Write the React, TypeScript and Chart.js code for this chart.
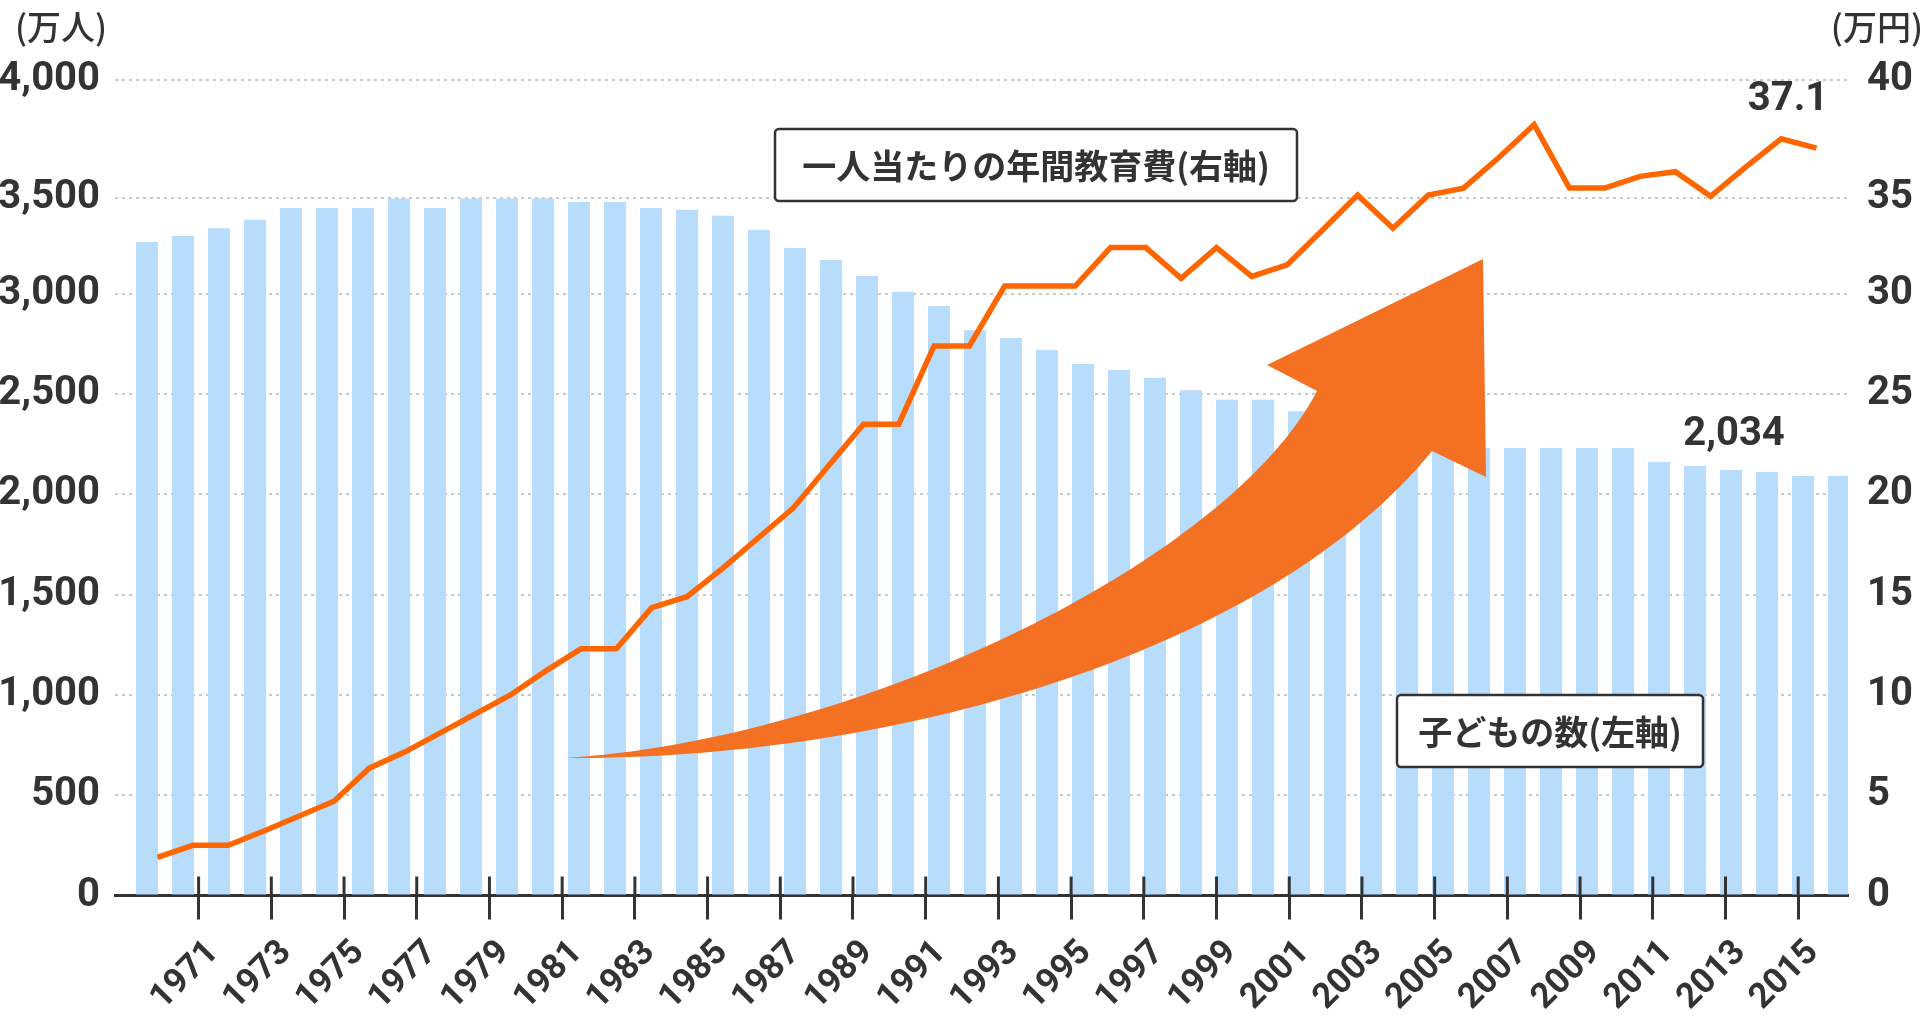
import React, { useEffect, useRef } from 'react';
import { Chart, registerables, LinearScale } from 'chart.js';

// ---- data ----
const YEARS = [
  1970, 1971, 1972, 1973, 1974, 1975, 1976, 1977, 1978, 1979,
  1980, 1981, 1982, 1983, 1984, 1985, 1986, 1987, 1988, 1989,
  1990, 1991, 1992, 1993, 1994, 1995, 1996, 1997, 1998, 1999,
  2000, 2001, 2002, 2003, 2004, 2005, 2006, 2007, 2008, 2009,
  2010, 2011, 2012, 2013, 2014, 2015, 2016, 2017,
];
// 子どもの数 (万人)
const CHILDREN = [
  3269, 3300, 3341, 3384, 3445, 3445, 3445, 3495, 3445, 3495,
  3495, 3495, 3477, 3477, 3445, 3436, 3405, 3331, 3238, 3176,
  3092, 3009, 2939, 2819, 2780, 2720, 2650, 2620, 2581, 2519,
  2472, 2472, 2414, 2377, 2340, 2300, 2265, 2231, 2231, 2231,
  2231, 2231, 2162, 2141, 2122, 2112, 2092, 2092,
];
// 一人当たりの年間教育費 (万円)
const EDU_COST = [
  1.9, 2.5, 2.5, 3.2, 3.95, 4.7, 6.35, 7.15, 8.1, 9.05,
  10.0, 11.2, 12.3, 12.3, 14.35, 14.9, 16.3, 17.8, 19.3, 21.4,
  23.5, 23.5, 27.4, 27.4, 30.4, 30.4, 30.4, 32.4, 32.4, 30.8,
  32.4, 30.9, 31.5, 33.3, 35.1, 33.4, 35.1, 35.4, 36.7, 38.1,
  35.4, 35.4, 35.9, 36.1, 35.05, 36.3, 37.5, 37.1,
];
const TICK_YEARS = [
  1971, 1973, 1975, 1977, 1979, 1981, 1983, 1985, 1987, 1989, 1991, 1993,
  1995, 1997, 1999, 2001, 2003, 2005, 2007, 2009, 2011, 2013, 2015,
];
const LEFT_UNIT = '(万人)';
const RIGHT_UNIT = '(万円)';
const LINE_LEGEND = '一人当たりの年間教育費(右軸)';
const BAR_LEGEND = '子どもの数(左軸)';
const BAR_NOTE_INDEX = 44;
const BAR_NOTE_TEXT = '2,034';

// ---- piecewise value axis (upper band is stretched in the reference) ----
const BREAKS: [number, number][] = [[0, 0], [0.75, 0.7378], [0.875, 0.8559], [1, 1]];
function toDecimal(f: number) {
  for (let i = 1; i < BREAKS.length; i++) {
    const [v0, d0] = BREAKS[i - 1];
    const [v1, d1] = BREAKS[i];
    if (f <= v1 || i === BREAKS.length - 1) return d0 + ((f - v0) / (v1 - v0)) * (d1 - d0);
  }
  return f;
}
function fromDecimal(d: number) {
  for (let i = 1; i < BREAKS.length; i++) {
    const [v0, d0] = BREAKS[i - 1];
    const [v1, d1] = BREAKS[i];
    if (d <= d1 || i === BREAKS.length - 1) return v0 + ((d - d0) / (d1 - d0)) * (v1 - v0);
  }
  return d;
}
class PiecewiseScale extends LinearScale {
  static id = 'piecewise';
  static defaults = LinearScale.defaults;
  getPixelForValue(value: any) {
    if (value === null || value === undefined || Number.isNaN(value)) return NaN;
    const f = (value - (this as any).min) / ((this as any).max - (this as any).min);
    return (this as any).getPixelForDecimal(toDecimal(f));
  }
  getValueForPixel(pixel: number) {
    const f = fromDecimal((this as any).getDecimalForPixel(pixel));
    return (this as any).min + f * ((this as any).max - (this as any).min);
  }
}

Chart.register(...registerables, PiecewiseScale as any);

const NUM_FONT = 'Roboto, "Noto Sans CJK JP", sans-serif';
const CJK_FONT = '"Noto Sans CJK JP", Roboto, sans-serif';
const INK = '#333333';

const decorPlugin = {
  id: 'decor',
  afterDraw(chart: any) {
    const { ctx, chartArea: ca, scales } = chart;
    const P = (x: number, y: number): [number, number] => [
      ca.left + ((x - 115) / 1733) * ca.width,
      ca.top + ((y - 80) / 815.5) * ca.height,
    ];
    ctx.save();

    // curved arrow
    ctx.beginPath();
    ctx.moveTo(...P(565, 758));
    ctx.bezierCurveTo(...P(860, 740), ...P(1230, 560), ...P(1317, 391));
    ctx.lineTo(...P(1267, 365));
    ctx.lineTo(...P(1483, 259));
    ctx.lineTo(...P(1486, 477));
    ctx.lineTo(...P(1432, 451));
    ctx.bezierCurveTo(...P(1270, 650), ...P(900, 760), ...P(565, 758));
    ctx.closePath();
    ctx.fillStyle = '#f47023';
    ctx.fill();

    // upper part of x tick marks
    const xs = scales.xTicks;
    ctx.strokeStyle = INK;
    ctx.lineWidth = 3;
    xs.ticks.forEach((t: any) => {
      const x = xs.getPixelForValue(t.value);
      ctx.beginPath();
      ctx.moveTo(x, ca.bottom - 19);
      ctx.lineTo(x, ca.bottom);
      ctx.stroke();
    });

    // unit titles
    ctx.fillStyle = INK;
    ctx.font = `500 34px ${CJK_FONT}`;
    ctx.textBaseline = 'middle';
    ctx.textAlign = 'center';
    ctx.fillText(LEFT_UNIT, scales.y.right - 54, ca.top - 53);
    ctx.textAlign = 'right';
    ctx.fillText(RIGHT_UNIT, scales.y2.right - 3, ca.top - 53);

    // legend boxes
    const box = (x: number, y: number, w: number, h: number, text: string) => {
      ctx.beginPath();
      ctx.roundRect(x, y, w, h, 4);
      ctx.fillStyle = '#ffffff';
      ctx.fill();
      ctx.lineWidth = 2.5;
      ctx.strokeStyle = INK;
      ctx.stroke();
      ctx.fillStyle = INK;
      ctx.font = `bold 34px ${CJK_FONT}`;
      ctx.textAlign = 'center';
      ctx.textBaseline = 'middle';
      ctx.fillText(text, x + w / 2, y + h / 2 + 1);
    };
    const b1 = P(775, 129);
    box(b1[0], b1[1], 522, 72, LINE_LEGEND);
    const b2 = P(1397, 695);
    box(b2[0], b2[1], 306, 72, BAR_LEGEND);

    // value notes
    ctx.fillStyle = INK;
    ctx.font = `bold 40px ${NUM_FONT}`;
    ctx.textAlign = 'center';
    ctx.textBaseline = 'alphabetic';
    const lineMeta = chart.getDatasetMeta(0);
    const last = lineMeta.data[lineMeta.data.length - 1];
    ctx.fillText(EDU_COST[EDU_COST.length - 1].toFixed(1), last.x - 28.5, last.y - 38);
    const barMeta = chart.getDatasetMeta(1);
    const bar = barMeta.data[BAR_NOTE_INDEX];
    ctx.fillText(BAR_NOTE_TEXT, bar.x + 3, bar.y - 25);

    ctx.restore();
  },
};

export default function App() {
  const ref = useRef<HTMLCanvasElement | null>(null);
  useEffect(() => {
    if (!ref.current) return;
    Chart.defaults.font.family = NUM_FONT;
    Chart.defaults.color = INK;
    const tickFont = { family: NUM_FONT, size: 40, weight: 'bold' as const };
    const chart = new Chart(ref.current, {
      type: 'bar',
      data: {
        datasets: [
          {
            type: 'line',
            label: '一人当たりの年間教育費',
            data: YEARS.map((y, i) => ({ x: y, y: EDU_COST[i] })),
            xAxisID: 'xLine',
            yAxisID: 'y2',
            borderColor: '#ff6600',
            borderWidth: 5.5,
            pointRadius: 0,
            tension: 0,
            borderJoinStyle: 'miter',
            borderCapStyle: 'butt',
            order: 0,
          } as any,
          {
            type: 'bar',
            label: '子どもの数',
            data: YEARS.map((y, i) => ({ x: y, y: CHILDREN[i] })),
            xAxisID: 'xBar',
            yAxisID: 'y',
            backgroundColor: '#b7dcfc',
            grouped: false,
            maxBarThickness: 22,
            order: 1,
          } as any,
        ],
      },
      options: {
        animation: false,
        responsive: true,
        maintainAspectRatio: false,
        events: [],
        layout: { padding: { top: 80, left: 0, right: 0, bottom: 0 } },
        plugins: { legend: { display: false }, tooltip: { enabled: false } },
        scales: {
          xTicks: {
            type: 'linear',
            position: 'bottom',
            min: 1968.7,
            max: 2016.37,
            offset: false,
            z: 1,
            afterBuildTicks: (s: any) => {
              s.ticks = TICK_YEARS.map((v) => ({ value: v }));
            },
            afterFit: (s: any) => {
              s.height = 127.5;
            },
            ticks: {
              autoSkip: false,
              minRotation: 45,
              maxRotation: 45,
              padding: 13,
              labelOffset: 15,
              color: INK,
              font: { family: NUM_FONT, size: 35, weight: 'bold' },
              callback: (v: any) => String(v),
            },
            grid: {
              offset: false,
              drawOnChartArea: false,
              drawTicks: true,
              tickLength: 24,
              tickWidth: 3,
              tickColor: INK,
            },
            border: { display: true, color: INK, width: 3 },
          },
          xBar: {
            type: 'linear',
            display: false,
            offset: false,
            grid: { offset: false },
            min: 1969.111,
            max: 2017.25,
          },
          xLine: {
            type: 'linear',
            display: false,
            offset: false,
            grid: { offset: false },
            min: 1968.796,
            max: 2017.892,
          },
          y: {
            type: 'piecewise' as any,
            position: 'left',
            min: 0,
            max: 4000,
            z: 1,
            afterFit: (s: any) => {
              s.width = 115;
            },
            ticks: {
              stepSize: 500,
              padding: 15,
              color: INK,
              font: tickFont,
              callback: (v: any) => Number(v).toLocaleString('en-US'),
            },
            grid: {
              color: (c: any) => (c.tick && c.tick.value === 0 ? 'rgba(0,0,0,0)' : '#c8c8c8'),
              lineWidth: 2,
              drawTicks: false,
            },
            border: { display: false, dash: [3, 4] },
          },
          y2: {
            type: 'piecewise' as any,
            position: 'right',
            min: 0,
            max: 40,
            afterFit: (s: any) => {
              s.width = 78;
            },
            ticks: {
              stepSize: 5,
              padding: 19,
              color: INK,
              font: tickFont,
              callback: (v: any) => String(v),
            },
            grid: { drawOnChartArea: false, drawTicks: false },
            border: { display: false },
          },
        } as any,
      },
      plugins: [decorPlugin],
    });
    return () => chart.destroy();
  }, []);

  return (
    <div style={{ position: 'fixed', left: 0, top: 0, width: 1926, height: 1023, background: '#fff' }}>
      <canvas ref={ref} />
    </div>
  );
}
